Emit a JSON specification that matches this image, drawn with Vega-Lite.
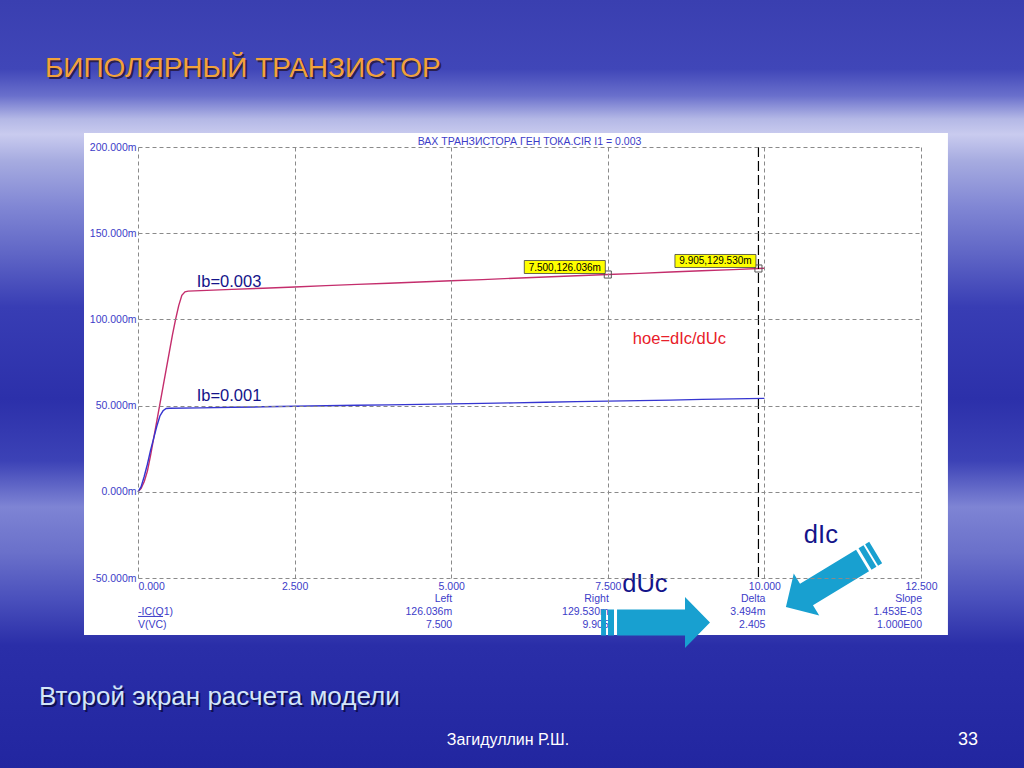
{
  "$schema": "https://vega.github.io/schema/vega-lite/v6.json",
  "width": 783,
  "height": 431,
  "autosize": "none",
  "padding": {"left": 138, "top": 147, "right": 103, "bottom": 190},
  "background": "#2a2ea8",
  "config": {"view": {"stroke": "#a0a0a0", "strokeWidth": 1.2}, "font": "Liberation Sans"},
  "datasets": {
    "curves": [
      {"series": "Ib=0.003", "v": 0, "ic": 0},
      {"series": "Ib=0.003", "v": 0.05, "ic": 2},
      {"series": "Ib=0.003", "v": 0.1, "ic": 6},
      {"series": "Ib=0.003", "v": 0.15, "ic": 12},
      {"series": "Ib=0.003", "v": 0.2, "ic": 21},
      {"series": "Ib=0.003", "v": 0.25, "ic": 31},
      {"series": "Ib=0.003", "v": 0.3, "ic": 41},
      {"series": "Ib=0.003", "v": 0.35, "ic": 51},
      {"series": "Ib=0.003", "v": 0.4, "ic": 61},
      {"series": "Ib=0.003", "v": 0.45, "ic": 71},
      {"series": "Ib=0.003", "v": 0.5, "ic": 81},
      {"series": "Ib=0.003", "v": 0.55, "ic": 91},
      {"series": "Ib=0.003", "v": 0.6, "ic": 100},
      {"series": "Ib=0.003", "v": 0.65, "ic": 108},
      {"series": "Ib=0.003", "v": 0.7, "ic": 114},
      {"series": "Ib=0.003", "v": 0.75, "ic": 116},
      {"series": "Ib=0.003", "v": 0.8, "ic": 116.4},
      {"series": "Ib=0.003", "v": 1.0, "ic": 116.7},
      {"series": "Ib=0.003", "v": 1.5, "ic": 117.4},
      {"series": "Ib=0.003", "v": 2.0, "ic": 118.1},
      {"series": "Ib=0.003", "v": 2.5, "ic": 118.8},
      {"series": "Ib=0.003", "v": 3.0, "ic": 119.6},
      {"series": "Ib=0.003", "v": 3.5, "ic": 120.3},
      {"series": "Ib=0.003", "v": 4.0, "ic": 121.0},
      {"series": "Ib=0.003", "v": 4.5, "ic": 121.7},
      {"series": "Ib=0.003", "v": 5.0, "ic": 122.4},
      {"series": "Ib=0.003", "v": 5.5, "ic": 123.1},
      {"series": "Ib=0.003", "v": 6.0, "ic": 123.9},
      {"series": "Ib=0.003", "v": 6.5, "ic": 124.6},
      {"series": "Ib=0.003", "v": 7.0, "ic": 125.3},
      {"series": "Ib=0.003", "v": 7.5, "ic": 126.036},
      {"series": "Ib=0.003", "v": 8.0, "ic": 126.7},
      {"series": "Ib=0.003", "v": 8.5, "ic": 127.5},
      {"series": "Ib=0.003", "v": 9.0, "ic": 128.2},
      {"series": "Ib=0.003", "v": 9.5, "ic": 128.9},
      {"series": "Ib=0.003", "v": 9.905, "ic": 129.53},
      {"series": "Ib=0.003", "v": 10.0, "ic": 129.67},
      {"series": "Ib=0.001", "v": 0, "ic": 0},
      {"series": "Ib=0.001", "v": 0.05, "ic": 3},
      {"series": "Ib=0.001", "v": 0.1, "ic": 9},
      {"series": "Ib=0.001", "v": 0.15, "ic": 16},
      {"series": "Ib=0.001", "v": 0.2, "ic": 24},
      {"series": "Ib=0.001", "v": 0.25, "ic": 31},
      {"series": "Ib=0.001", "v": 0.3, "ic": 38},
      {"series": "Ib=0.001", "v": 0.35, "ic": 44},
      {"series": "Ib=0.001", "v": 0.4, "ic": 47},
      {"series": "Ib=0.001", "v": 0.45, "ic": 48.3},
      {"series": "Ib=0.001", "v": 0.5, "ic": 48.5},
      {"series": "Ib=0.001", "v": 1.0, "ic": 48.7},
      {"series": "Ib=0.001", "v": 1.5, "ic": 49.0},
      {"series": "Ib=0.001", "v": 2.0, "ic": 49.3},
      {"series": "Ib=0.001", "v": 2.5, "ic": 49.6},
      {"series": "Ib=0.001", "v": 3.0, "ic": 49.9},
      {"series": "Ib=0.001", "v": 3.5, "ic": 50.2},
      {"series": "Ib=0.001", "v": 4.0, "ic": 50.4},
      {"series": "Ib=0.001", "v": 4.5, "ic": 50.7},
      {"series": "Ib=0.001", "v": 5.0, "ic": 51.0},
      {"series": "Ib=0.001", "v": 5.5, "ic": 51.3},
      {"series": "Ib=0.001", "v": 6.0, "ic": 51.6},
      {"series": "Ib=0.001", "v": 6.5, "ic": 51.9},
      {"series": "Ib=0.001", "v": 7.0, "ic": 52.3},
      {"series": "Ib=0.001", "v": 7.5, "ic": 52.6},
      {"series": "Ib=0.001", "v": 8.0, "ic": 52.9},
      {"series": "Ib=0.001", "v": 8.5, "ic": 53.2},
      {"series": "Ib=0.001", "v": 9.0, "ic": 53.6},
      {"series": "Ib=0.001", "v": 9.5, "ic": 53.9},
      {"series": "Ib=0.001", "v": 10.0, "ic": 54.2}
    ],
    "cursors": [
      {"v": 7.5, "ic": 126.036, "label": "7.500,126.036m"},
      {"v": 9.905, "ic": 129.53, "label": "9.905,129.530m"}
    ],
    "readout": [
      {"v": 5, "hdr": "Left", "icv": "126.036m", "vcv": "7.500"},
      {"v": 7.5, "hdr": "Right", "icv": "129.530m", "vcv": "9.905"},
      {"v": 10, "hdr": "Delta", "icv": "3.494m", "vcv": "2.405"},
      {"v": 12.5, "hdr": "Slope", "icv": "1.453E-03", "vcv": "1.000E00"}
    ]
  },
  "layer": [
    {
      "data": {"values": [{}]},
      "mark": {"type": "rect", "fill": {"gradient": "linear", "x1": 0, "y1": 0, "x2": 0, "y2": 1, "stops": [
        {"offset": 0, "color": "#3a3fb0"},
        {"offset": 0.09, "color": "#4046b8"},
        {"offset": 0.125, "color": "#6a70cc"},
        {"offset": 0.155, "color": "#b4b8e6"},
        {"offset": 0.175, "color": "#c9cbef"},
        {"offset": 0.21, "color": "#a6abe0"},
        {"offset": 0.27, "color": "#8086d4"},
        {"offset": 0.33, "color": "#6066c6"},
        {"offset": 0.4, "color": "#383db4"},
        {"offset": 0.52, "color": "#2c30aa"},
        {"offset": 0.6, "color": "#3c42b6"},
        {"offset": 0.66, "color": "#7e84d4"},
        {"offset": 0.72, "color": "#6a70ca"},
        {"offset": 0.78, "color": "#4a50bc"},
        {"offset": 0.84, "color": "#2a2ea8"},
        {"offset": 1, "color": "#2226a0"}
      ]}},
      "encoding": {
        "x": {"datum": -2.25, "type": "quantitative", "title": null,
          "scale": {"domain": [0, 12.5], "nice": false, "zero": false},
          "axis": {"values": [0, 2.5, 5, 7.5, 10, 12.5], "labelExpr": "format(datum.value, '.3f')", "grid": true, "gridDash": [4, 3], "gridColor": "#8a8a8a", "gridWidth": 1, "domain": false, "ticks": false, "labelColor": "#3c3cc8", "labelFont": "Liberation Sans", "labelFontSize": 10.5, "labelPadding": 3, "labelFlush": false, "labelOverlap": false, "labelBound": false, "labelAlign": {"expr": "datum.value == 0 ? 'left' : 'center'"}, "zindex": 1}},
        "x2": {"datum": 14.2},
        "y": {"datum": 285.3, "type": "quantitative", "title": null,
          "scale": {"domain": [-50, 200], "nice": false, "zero": false},
          "axis": {"values": [-50, 0, 50, 100, 150, 200], "labelExpr": "replace(format(datum.value, '.3f'), '\u2212', '-') + 'm'", "grid": true, "gridDash": [4, 3], "gridColor": "#8a8a8a", "gridWidth": 1, "domain": false, "ticks": false, "labelColor": "#3c3cc8", "labelFont": "Liberation Sans", "labelFontSize": 10.5, "labelPadding": 2, "labelFlush": false, "labelOverlap": false, "labelBound": false, "zindex": 1}},
        "y2": {"datum": -160.3}
      }
    },
    {
      "data": {"values": [{}]},
      "mark": {"type": "rect", "fill": "#ffffff"},
      "encoding": {
        "x": {"datum": -0.862, "title": null},
        "x2": {"datum": 12.93},
        "y": {"datum": 208.1, "title": null},
        "y2": {"datum": -83.06}
      }
    },
    {
      "data": {"values": [{"v": 6.25, "ic": 201.3, "label": "ВАХ ТРАНЗИСТОРА ГЕН ТОКА.CIR I1 = 0.003"}]},
      "mark": {"type": "text", "fontSize": 10.5, "font": "Liberation Sans", "color": "#3c3cc8", "align": "center", "baseline": "alphabetic"},
      "encoding": {
        "x": {"field": "v", "type": "quantitative", "title": null},
        "y": {"field": "ic", "type": "quantitative", "title": null},
        "text": {"field": "label"}
      }
    },
    {
      "data": {"name": "curves"},
      "mark": {"type": "line", "strokeWidth": 1.4},
      "encoding": {
        "x": {"field": "v", "type": "quantitative", "title": null},
        "y": {"field": "ic", "type": "quantitative", "title": null},
        "color": {"field": "series", "type": "nominal", "scale": {"domain": ["Ib=0.003", "Ib=0.001"], "range": ["#c42d6c", "#3535d0"]}, "legend": null}
      }
    },
    {
      "data": {"values": [{}]},
      "mark": {"type": "rule", "color": "#000000", "strokeWidth": 1.2, "strokeDash": [10, 4]},
      "encoding": {"x": {"datum": 9.905, "title": null}}
    },
    {
      "data": {"name": "cursors"},
      "mark": {"type": "point", "shape": "square", "size": 50, "filled": false, "stroke": "#555555", "strokeWidth": 1, "opacity": 1},
      "encoding": {
        "x": {"field": "v", "type": "quantitative", "title": null},
        "y": {"field": "ic", "type": "quantitative", "title": null}
      }
    },
    {
      "data": {"name": "cursors"},
      "mark": {"type": "rect", "width": 81, "height": 13, "xOffset": -43, "yOffset": -7.5, "fill": "#ffff00", "stroke": "#404040", "strokeWidth": 0.8},
      "encoding": {
        "x": {"field": "v", "type": "quantitative", "title": null},
        "y": {"field": "ic", "type": "quantitative", "title": null}
      }
    },
    {
      "data": {"name": "cursors"},
      "mark": {"type": "text", "fontSize": 10, "font": "Liberation Sans", "color": "#000000", "xOffset": -43, "yOffset": -7, "align": "center", "baseline": "middle"},
      "encoding": {
        "x": {"field": "v", "type": "quantitative", "title": null},
        "y": {"field": "ic", "type": "quantitative", "title": null},
        "text": {"field": "label"}
      }
    },
    {
      "data": {"values": [{"v": 0.937, "ic": 119.0, "label": "Ib=0.003"}, {"v": 0.937, "ic": 52.8, "label": "Ib=0.001"}]},
      "mark": {"type": "text", "fontSize": 16.5, "font": "Liberation Sans", "color": "#14148a", "align": "left", "baseline": "alphabetic"},
      "encoding": {
        "x": {"field": "v", "type": "quantitative", "title": null},
        "y": {"field": "ic", "type": "quantitative", "title": null},
        "text": {"field": "label"}
      }
    },
    {
      "data": {"values": [{"v": 7.9, "ic": 85.7, "label": "hoe=dIc/dUc"}]},
      "mark": {"type": "text", "fontSize": 16.5, "font": "Liberation Sans", "color": "#e8202a", "align": "left", "baseline": "alphabetic"},
      "encoding": {
        "x": {"field": "v", "type": "quantitative", "title": null},
        "y": {"field": "ic", "type": "quantitative", "title": null},
        "text": {"field": "label"}
      }
    },
    {
      "data": {"name": "readout"},
      "mark": {"type": "text", "fontSize": 10.5, "font": "Liberation Sans", "color": "#3c3cc8", "align": "right", "baseline": "alphabetic", "dx": 1},
      "encoding": {
        "x": {"field": "v", "type": "quantitative", "title": null},
        "y": {"datum": -63.9, "title": null},
        "text": {"field": "hdr"}
      }
    },
    {
      "data": {"name": "readout"},
      "mark": {"type": "text", "fontSize": 10.5, "font": "Liberation Sans", "color": "#3c3cc8", "align": "right", "baseline": "alphabetic", "dx": 1},
      "encoding": {
        "x": {"field": "v", "type": "quantitative", "title": null},
        "y": {"datum": -71.5, "title": null},
        "text": {"field": "icv"}
      }
    },
    {
      "data": {"name": "readout"},
      "mark": {"type": "text", "fontSize": 10.5, "font": "Liberation Sans", "color": "#3c3cc8", "align": "right", "baseline": "alphabetic", "dx": 1},
      "encoding": {
        "x": {"field": "v", "type": "quantitative", "title": null},
        "y": {"datum": -79.0, "title": null},
        "text": {"field": "vcv"}
      }
    },
    {
      "data": {"values": [{"label": "-IC(Q1)"}]},
      "mark": {"type": "text", "fontSize": 10.5, "font": "Liberation Sans", "color": "#3c3cc8", "align": "left", "baseline": "alphabetic"},
      "encoding": {
        "x": {"datum": 0, "title": null},
        "y": {"datum": -71.5, "title": null},
        "text": {"field": "label"}
      }
    },
    {
      "data": {"values": [{}]},
      "mark": {"type": "rule", "color": "#3c3cc8", "strokeWidth": 1},
      "encoding": {
        "x": {"datum": 0, "title": null},
        "x2": {"datum": 0.4},
        "y": {"datum": -72.3, "title": null}
      }
    },
    {
      "data": {"values": [{"label": "V(VC)"}]},
      "mark": {"type": "text", "fontSize": 10.5, "font": "Liberation Sans", "color": "#3c3cc8", "align": "left", "baseline": "alphabetic"},
      "encoding": {
        "x": {"datum": 0, "title": null},
        "y": {"datum": -79.0, "title": null},
        "text": {"field": "label"}
      }
    },
    {
      "data": {"values": [{"v": 10.63, "ic": -29.9, "label": "dIc"}, {"v": 7.73, "ic": -57.9, "label": "dUc"}]},
      "mark": {"type": "text", "fontSize": 25.5, "font": "Liberation Sans", "color": "#14148a", "align": "left", "baseline": "alphabetic"},
      "encoding": {
        "x": {"field": "v", "type": "quantitative", "title": null},
        "y": {"field": "ic", "type": "quantitative", "title": null},
        "text": {"field": "label"}
      }
    },
    {
      "data": {"values": [{"v": -1.485, "ic": 240.6, "label": "БИПОЛЯРНЫЙ ТРАНЗИСТОР"}]},
      "mark": {"type": "text", "fontSize": 28, "font": "Liberation Sans", "color": "#2a2050", "align": "left", "baseline": "alphabetic", "dx": 2, "dy": 2},
      "encoding": {
        "x": {"field": "v", "type": "quantitative", "title": null},
        "y": {"field": "ic", "type": "quantitative", "title": null},
        "text": {"field": "label"}
      }
    },
    {
      "data": {"values": [{"v": -1.485, "ic": 240.6, "label": "БИПОЛЯРНЫЙ ТРАНЗИСТОР"}]},
      "mark": {"type": "text", "fontSize": 28, "font": "Liberation Sans", "color": "#f2a23a", "align": "left", "baseline": "alphabetic"},
      "encoding": {
        "x": {"field": "v", "type": "quantitative", "title": null},
        "y": {"field": "ic", "type": "quantitative", "title": null},
        "text": {"field": "label"}
      }
    },
    {
      "data": {"values": [{"v": -1.58, "ic": -123.7, "label": "Второй экран расчета модели"}]},
      "mark": {"type": "text", "fontSize": 26, "font": "Liberation Sans", "color": "#101050", "align": "left", "baseline": "alphabetic", "dx": 2, "dy": 2},
      "encoding": {
        "x": {"field": "v", "type": "quantitative", "title": null},
        "y": {"field": "ic", "type": "quantitative", "title": null},
        "text": {"field": "label"}
      }
    },
    {
      "data": {"values": [{"v": -1.58, "ic": -123.7, "label": "Второй экран расчета модели"}]},
      "mark": {"type": "text", "fontSize": 26, "font": "Liberation Sans", "color": "#d4e6f8", "align": "left", "baseline": "alphabetic"},
      "encoding": {
        "x": {"field": "v", "type": "quantitative", "title": null},
        "y": {"field": "ic", "type": "quantitative", "title": null},
        "text": {"field": "label"}
      }
    },
    {
      "data": {"values": [{"v": 4.93, "ic": -146.9, "label": "Загидуллин Р.Ш."}]},
      "mark": {"type": "text", "fontSize": 16, "font": "Liberation Sans Narrow, Liberation Sans", "color": "#ffffff", "align": "left", "baseline": "alphabetic"},
      "encoding": {
        "x": {"field": "v", "type": "quantitative", "title": null},
        "y": {"field": "ic", "type": "quantitative", "title": null},
        "text": {"field": "label"}
      }
    },
    {
      "data": {"values": [{"v": 13.09, "ic": -146.9, "label": "33"}]},
      "mark": {"type": "text", "fontSize": 18, "font": "Liberation Sans", "color": "#ffffff", "align": "left", "baseline": "alphabetic"},
      "encoding": {
        "x": {"field": "v", "type": "quantitative", "title": null},
        "y": {"field": "ic", "type": "quantitative", "title": null},
        "text": {"field": "label"}
      }
    },
    {
      "data": {"values": [{"v": 8.262, "ic": -75.8}]},
      "mark": {"type": "point", "filled": true, "fill": "#18a0d0", "opacity": 1, "strokeWidth": 0, "size": 12100, "angle": 0,
        "shape": "M-0.99,-0.236 L-0.9,-0.236 L-0.9,0.236 L-0.99,0.236 Z M-0.864,-0.236 L-0.755,-0.236 L-0.755,0.236 L-0.864,0.236 Z M-0.7,-0.236 L0.536,-0.236 L0.536,-0.464 L0.99,0 L0.536,0.464 L0.536,0.236 L-0.7,0.236 Z"},
      "encoding": {
        "x": {"field": "v", "type": "quantitative", "title": null},
        "y": {"field": "ic", "type": "quantitative", "title": null}
      }
    },
    {
      "data": {"values": [{"v": 11.06, "ic": -51.0}]},
      "mark": {"type": "point", "filled": true, "fill": "#18a0d0", "opacity": 1, "strokeWidth": 0, "size": 11236, "angle": 148.8,
        "shape": "M-0.99,-0.236 L-0.9,-0.236 L-0.9,0.236 L-0.99,0.236 Z M-0.864,-0.236 L-0.755,-0.236 L-0.755,0.236 L-0.864,0.236 Z M-0.7,-0.236 L0.536,-0.236 L0.536,-0.464 L0.99,0 L0.536,0.464 L0.536,0.236 L-0.7,0.236 Z"},
      "encoding": {
        "x": {"field": "v", "type": "quantitative", "title": null},
        "y": {"field": "ic", "type": "quantitative", "title": null}
      }
    }
  ]
}
